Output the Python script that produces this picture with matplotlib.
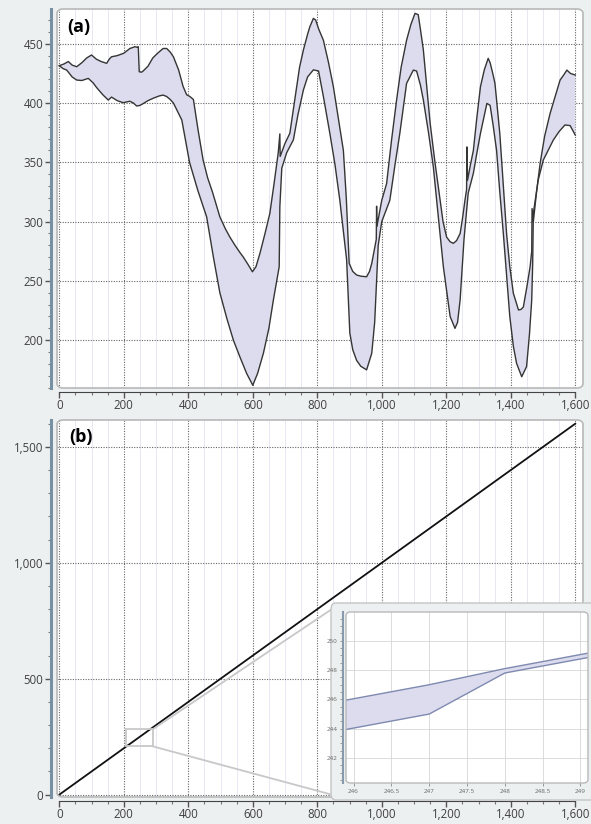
import numpy as np
import matplotlib
matplotlib.use('Agg')
import matplotlib.pyplot as plt
from matplotlib.ticker import MultipleLocator, FuncFormatter
from matplotlib.patches import FancyBboxPatch, Rectangle, ConnectionPatch

# --- data, panel (a): upper and lower envelope ---
upper_x = [0, 15, 28, 40, 54, 70, 85, 100, 115, 130, 147, 155, 162, 180, 200, 219, 230, 235, 242, 245,
           248, 255, 260, 275, 290, 305, 322, 333, 344, 354, 370, 384, 395, 405, 416, 430, 446, 460,
           475, 498, 515, 529, 545, 560, 570, 585, 599, 610, 622, 638, 653, 665, 675, 679, 684, 685,
           700, 715, 730, 745, 757, 770, 777, 788, 795, 805, 819, 835, 850, 865, 881, 890, 899, 910,
           922, 935, 953, 962, 969, 976, 983, 984, 985, 1000, 1015, 1030, 1046, 1060, 1077, 1090,
           1103, 1113, 1120, 1129, 1140, 1150, 1165, 1181, 1190, 1201, 1212, 1222, 1232, 1243, 1250,
           1258, 1263, 1264, 1266, 1275, 1284, 1295, 1306, 1318, 1330, 1336, 1345, 1351, 1366, 1377,
           1387, 1397, 1408, 1424, 1432, 1439, 1450, 1460, 1465, 1466, 1470, 1480, 1491, 1505, 1522,
           1537, 1553, 1565, 1574, 1585, 1600]
upper_y = [431.5, 433, 435, 432, 430.6, 434, 438, 440.5, 437, 435, 433.5, 437, 439, 440, 442, 446, 447,
           447.5, 447, 447.5, 426.4, 426, 427, 431, 438, 442, 446, 446, 443, 439, 428, 414, 407,
           405.5, 403, 378, 352, 337, 325, 304, 294, 287, 280, 274, 270.4, 264, 257.7, 262, 273,
           290, 307, 330, 350, 358, 374, 355, 366, 374.5, 402, 430, 444.7, 458, 464.3, 471.4, 470,
           462, 453, 434, 413.7, 388, 360, 320, 264.8, 258, 255, 254, 253.5, 258, 264.8, 275, 285,
           313, 296, 318, 332, 368, 402.5, 430, 453, 466, 475.6, 474.6, 462, 444.7, 412, 383, 350,
           318, 300, 287, 283, 281.7, 284, 290, 302, 318, 327, 363, 335, 348, 360, 388, 413.7, 428,
           437.7, 434, 424, 416.6, 374.4, 330, 290, 262, 239.6, 225.5, 226, 228, 245, 262, 275, 311,
           300, 325, 349, 372, 391.3, 405, 419.4, 424, 427.8, 425, 423.6]

lower_x = [0, 12, 23, 40, 54, 70, 90, 105, 116, 135, 152, 162, 180, 198, 219, 230, 240, 250, 260, 275,
           291, 310, 322, 333, 344, 354, 380, 404, 430, 457, 478, 498, 520, 540, 560, 581, 600, 615,
           633, 650, 664, 682, 684, 690, 705, 726, 740, 757, 770, 788, 804, 820, 839, 855, 870, 891,
           901, 910, 922, 935, 953, 969, 978, 984, 989, 1000, 1025, 1040, 1056, 1077, 1098, 1108,
           1120, 1129, 1145, 1160, 1175, 1191, 1212, 1227, 1235, 1243, 1255, 1268, 1284, 1295, 1306,
           1326, 1336, 1346, 1356, 1366, 1377, 1397, 1408, 1418, 1434, 1449, 1458, 1465, 1468, 1470,
           1485, 1501, 1532, 1550, 1568, 1584, 1600]
lower_y = [431.5, 429, 427.8, 422, 419.4, 419, 420.8, 417, 413, 407, 402.5, 405, 402, 400.3, 401.5, 400,
           397.5, 398, 399.5, 402, 404, 406, 406.7, 405.5, 403, 400, 385.7, 350, 326, 304, 270, 240,
           218, 200, 186, 172, 162, 172, 189, 210, 234, 262, 312.6, 345, 358, 369, 390, 411, 422,
           428, 427, 404, 374.5, 348, 318, 268, 206, 192, 183, 178, 175, 189, 215, 250, 280, 300,
           318, 346, 374.4, 416.6, 427.8, 427, 415, 402.5, 375, 346, 305, 262, 220, 210, 215, 234,
           285, 324, 340.7, 358, 374.4, 399.7, 398, 380, 360, 325, 290, 220, 195, 180.5, 169.2,
           177.7, 205, 234, 265, 307, 335, 352, 368.8, 376, 381.5, 381, 373]

# --- data, panel (b) ---
diag_x = [0, 1600]
diag_y = [0, 1600]
zoom_box = (207, 208, 291, 283)  # x0, y0, x1, y1 of the zoomed region

# inset (zoom on the band)
inset_x = [245.9, 247, 248, 249.2]
inset_upper = [245.95, 247.0, 248.1, 249.25]
inset_lower = [243.95, 245.0, 247.8, 248.95]

# --- style ---
bg = '#edf0f0'
fill_col = '#dcdcee'
line_col = '#353535'
tick_col = '#404040'
plt.rcParams['font.family'] = ['Open Sans', 'DejaVu Sans']

W, H = 591, 824
fig = plt.figure(figsize=(W / 100, H / 100), dpi=100, facecolor=bg)


def px_box(l, t, r, b):
    return [l / W, (H - b) / H, (r - l) / W, (b - t) / H]


def style_main(ax, ymaj, ymin):
    ax.set_facecolor('white')
    for s in ['top', 'right']:
        ax.spines[s].set_visible(False)
    ax.spines['left'].set_position(('outward', 4))
    ax.spines['left'].set_color('#7890a4')
    ax.spines['left'].set_linewidth(2.2)
    ax.spines['bottom'].set_position(('outward', 3))
    ax.spines['bottom'].set_color('#444444')
    ax.spines['bottom'].set_bounds(0, 1600)
    ax.xaxis.set_major_locator(MultipleLocator(200))
    ax.xaxis.set_minor_locator(MultipleLocator(50))
    ax.yaxis.set_major_locator(MultipleLocator(ymaj))
    ax.yaxis.set_minor_locator(MultipleLocator(ymin))
    fmt = FuncFormatter(lambda v, p: f'{v:,.0f}')
    ax.xaxis.set_major_formatter(fmt)
    ax.yaxis.set_major_formatter(fmt)
    ax.tick_params(which='major', length=4, width=1, color='#555555', labelsize=8.3,
                   labelcolor=tick_col, pad=2)
    ax.tick_params(axis='x', which='major', pad=1)
    ax.tick_params(which='minor', length=2.5, width=0.8, color='#777777')
    ax.grid(which='minor', axis='x', color='#e3e4f2', lw=0.6, ls='-')
    ax.grid(which='major', axis='both', color='#666666', lw=0.8, ls=(0, (1, 1.3)))
    ax.set_axisbelow(True)
    frame = FancyBboxPatch((0, 0), 1, 1, boxstyle='round,pad=0,rounding_size=0.012',
                           transform=ax.transAxes, fc='none', ec='#b8b8b8', lw=1.2,
                           clip_on=False, zorder=5)
    ax.add_patch(frame)


# panel (a)
ax_a = fig.add_axes(px_box(57, 9, 583, 388))
style_main(ax_a, 50, 10)
ax_a.fill(np.concatenate([upper_x, lower_x[::-1]]), np.concatenate([upper_y, lower_y[::-1]]),
          color=fill_col, lw=0, zorder=2)
ax_a.plot(upper_x, upper_y, color=line_col, lw=1.0, zorder=3)
ax_a.plot(lower_x, lower_y, color=line_col, lw=1.0, zorder=3)
ax_a.set_xlim(-7, 1624)
ax_a.set_ylim(159.7, 479.3)
ax_a.text(0.042, 0.953, '(a)', transform=ax_a.transAxes, fontsize=13, fontweight='bold',
          ha='center', va='center', color='black')

# panel (b)
ax_b = fig.add_axes(px_box(57, 420, 583, 797))
style_main(ax_b, 500, 100)
ax_b.plot(diag_x, diag_y, color='#111111', lw=1.3, zorder=3)
ax_b.set_xlim(-7, 1624)
ax_b.set_ylim(-10, 1616)
ax_b.text(0.046, 0.955, '(b)', transform=ax_b.transAxes, fontsize=13, fontweight='bold',
          ha='center', va='center', color='black')

x0, y0, x1, y1 = zoom_box
ax_b.add_patch(Rectangle((x0, y0), x1 - x0, y1 - y0, fc='none', ec='#c8c8c8', lw=1.3, zorder=4))
for ya, pb in [(y1, (338 / W, (H - 605) / H)), (y0, (333 / W, (H - 795) / H))]:
    con = ConnectionPatch(xyA=(x1, ya), coordsA=ax_b.transData, xyB=pb,
                          coordsB='figure fraction', color='#c8c8c8', lw=1.3, zorder=4)
    con.set_clip_on(False)
    ax_b.add_artist(con)

# inset background panel
ib = px_box(331, 603, 595, 800)
inset_bg = FancyBboxPatch((ib[0], ib[1]), ib[2], ib[3], boxstyle='round,pad=0,rounding_size=0.008',
                          transform=fig.transFigure, fc=bg, ec='#c4c4c4', lw=1.0, zorder=1)
fig.patches.append(inset_bg)

ax_i = fig.add_axes(px_box(346, 612, 588, 783), zorder=2)
ax_i.set_facecolor('white')
ax_i.fill(np.concatenate([inset_x, inset_x[::-1]]), np.concatenate([inset_upper, inset_lower[::-1]]),
          color=fill_col, lw=0, zorder=2)
ax_i.plot(inset_x, inset_upper, color='#7f8ab0', lw=1.0, zorder=3)
ax_i.plot(inset_x, inset_lower, color='#7f8ab0', lw=1.0, zorder=3)
ax_i.set_xlim(245.9, 249.1)
ax_i.set_ylim(240.3, 251.96)
ax_i.xaxis.set_major_locator(MultipleLocator(0.5))
ax_i.yaxis.set_major_locator(MultipleLocator(2))
ax_i.yaxis.set_minor_locator(MultipleLocator(0.5))
ax_i.xaxis.set_major_formatter(FuncFormatter(lambda v, p: f'{v:g}'))
ax_i.yaxis.set_major_formatter(FuncFormatter(lambda v, p: f'{v:g}'))
ax_i.tick_params(which='both', labelsize=4.5, labelcolor='#666666', color='#888888',
                 length=2, width=0.6, pad=2)
ax_i.grid(which='major', color='#d6d6d6', lw=0.6)
ax_i.set_axisbelow(True)
for s in ['top', 'right', 'bottom']:
    ax_i.spines[s].set_visible(False)
ax_i.spines['left'].set_color('#8799ac')
ax_i.spines['left'].set_linewidth(1.5)
ax_i.spines['left'].set_position(('outward', 2))
ax_i.add_patch(FancyBboxPatch((0, 0), 1, 1, boxstyle='round,pad=0,rounding_size=0.02',
                              transform=ax_i.transAxes, fc='none', ec='#b8b8b8', lw=1.0,
                              clip_on=False, zorder=5))

fig.savefig('out.png', dpi=100, facecolor=bg)
